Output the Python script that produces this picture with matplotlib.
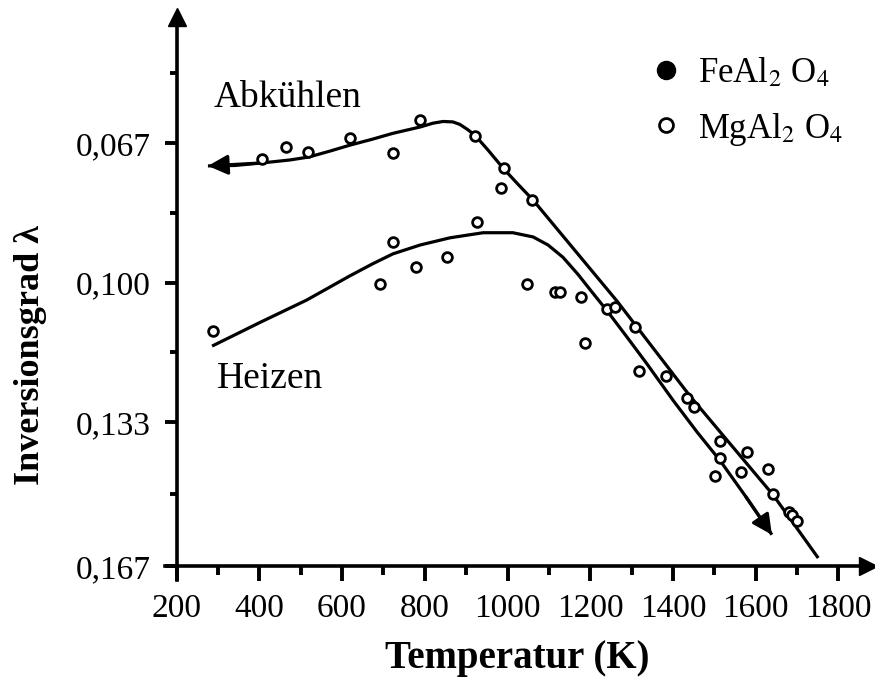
import matplotlib
matplotlib.use("Agg")
import matplotlib.pyplot as plt
from matplotlib.lines import Line2D

plt.rcParams['font.family'] = ['Liberation Serif', 'DejaVu Serif']
plt.rcParams['mathtext.fontset'] = 'stix'

# measured points (MgAl2O4), temperature in K, inversion degree
temp = [407, 465, 518, 619, 723, 789, 921, 992, 984, 1059,
        926, 723, 854, 779, 692, 1047, 288, 1115, 1127, 1178,
        1241, 1260, 1308, 1187, 1318, 1383, 1434, 1451, 1514, 1514,
        1502, 1579, 1564, 1630, 1642, 1680, 1688, 1700]
lam = [0.0708, 0.0679, 0.0691, 0.0658, 0.0694, 0.0616, 0.0653, 0.0729, 0.0776, 0.0805,
       0.0857, 0.0904, 0.0940, 0.0963, 0.1003, 0.1003, 0.1114, 0.1022, 0.1022, 0.1034,
       0.1062, 0.1058, 0.1105, 0.1143, 0.1209, 0.1221, 0.1273, 0.1294, 0.1374, 0.1415,
       0.1457, 0.1400, 0.1448, 0.1441, 0.1500, 0.1542, 0.1549, 0.1564]

# cooling curve (arrow at the left end)
cool_t = [276, 341, 407, 474, 520, 571, 619, 673, 723, 789,
          820, 844, 868, 885, 902, 921, 955, 989, 1025, 1062,
          1265, 1441, 1642, 1751]
cool_l = [0.0724, 0.0723, 0.0717, 0.0710, 0.0703, 0.0689, 0.0675, 0.0661, 0.0647, 0.0632,
          0.0623, 0.0619, 0.0620, 0.0626, 0.0637, 0.0651, 0.0689, 0.0729, 0.0767, 0.0805,
          0.1044, 0.1268, 0.1502, 0.1651]

# heating curve (arrow at the right end)
heat_t = [286, 402, 515, 619, 673, 723, 789, 861, 941, 1013,
          1062, 1098, 1134, 1170, 1204, 1241, 1289, 1337, 1400, 1458,
          1514, 1576, 1639]
heat_l = [0.1150, 0.1094, 0.1041, 0.0984, 0.0956, 0.0932, 0.0911, 0.0894, 0.0882, 0.0882,
          0.0892, 0.0911, 0.0940, 0.0980, 0.1022, 0.1067, 0.1129, 0.1192, 0.1278, 0.1353,
          0.1421, 0.1506, 0.1596]

xticks = [200, 400, 600, 800, 1000, 1200, 1400, 1600, 1800]
xminor = [300, 500, 700, 900, 1100, 1300, 1500, 1700]
yticks = [0.067, 0.100, 0.133, 0.167]
ylabels = ['0,067', '0,100', '0,133', '0,167']
yminor = [0.0505, 0.0835, 0.1165, 0.150]

W, H = 875, 677
fig = plt.figure(figsize=(W / 100, H / 100), dpi=100)
ax = fig.add_axes([165 / W, 1 - 580 / H, (868 - 165) / W, (580 - 17) / H])
ax.set_xlim(172.2, 1871.3)
ax.set_ylim(0.1703, 0.0372)

for s in ['top', 'right']:
    ax.spines[s].set_visible(False)
ax.spines['left'].set_position(('data', 200))
ax.spines['bottom'].set_position(('data', 0.167))
for s in ['left', 'bottom']:
    ax.spines[s].set_linewidth(2.6)

ax.set_xticks(xticks)
ax.set_xticks(xminor, minor=True)
ax.set_yticks(yticks)
ax.set_yticklabels(ylabels)
ax.set_yticks(yminor, minor=True)
ax.tick_params(axis='x', which='major', length=11, width=2.8, labelsize=24, pad=9)
ax.tick_params(axis='x', which='minor', length=6.5, width=2.8)
ax.tick_params(axis='y', which='major', length=8.5, width=2.8, labelsize=24, pad=10)
ax.tick_params(axis='y', which='minor', length=5, width=2.8)

# axis arrow heads
ax.plot([200], [0.0372], marker='^', ms=13, color='k', clip_on=False)
ax.plot([1871.3], [0.167], marker='>', ms=13, color='k', clip_on=False)

# curves with arrows
ax.plot(cool_t, cool_l, color='k', lw=2.3, solid_capstyle='butt', solid_joinstyle='round')
ax.annotate('', xy=(cool_t[0], cool_l[0]), xytext=(cool_t[2], cool_l[2]),
            arrowprops=dict(arrowstyle='-|>', color='k', lw=2.3, mutation_scale=30,
                            shrinkA=0, shrinkB=0))
ax.plot(heat_t, heat_l, color='k', lw=2.3, solid_capstyle='butt', solid_joinstyle='round')
ax.annotate('', xy=(heat_t[-1], heat_l[-1]), xytext=(heat_t[-2], heat_l[-2]),
            arrowprops=dict(arrowstyle='-|>', color='k', lw=2.3, mutation_scale=30,
                            shrinkA=0, shrinkB=0))

ax.plot(temp, lam, 'o', mfc='white', mec='k', ms=7, mew=2, zorder=3)

ax.text(289, 0.0585, 'Abkühlen', fontsize=27, ha='left', va='baseline')
ax.text(298, 0.1249, 'Heizen', fontsize=27, ha='left', va='baseline')

handles = [Line2D([], [], ls='none', marker='o', color='k', ms=13),
           Line2D([], [], ls='none', marker='o', mfc='white', mec='k', ms=10, mew=2)]
ax.legend(handles, ['FeAl$_2$ O$_4$', 'MgAl$_2$ O$_4$'], loc='upper left',
          bbox_to_anchor=(649 / W, 1 - 56 / H), bbox_transform=fig.transFigure,
          frameon=False, fontsize=25, handlelength=1.0, handletextpad=0.4,
          labelspacing=0.6, borderpad=0, borderaxespad=0)

fig.text(517 / W, 1 - 668 / H, 'Temperatur (K)', fontsize=28, fontweight='bold',
         ha='center', va='baseline')
fig.text(31 / W, 1 - 355 / H, 'Inversionsgrad λ', fontsize=26, fontweight='bold',
         ha='center', va='center', rotation=90)

fig.savefig('out.png', dpi=100)
